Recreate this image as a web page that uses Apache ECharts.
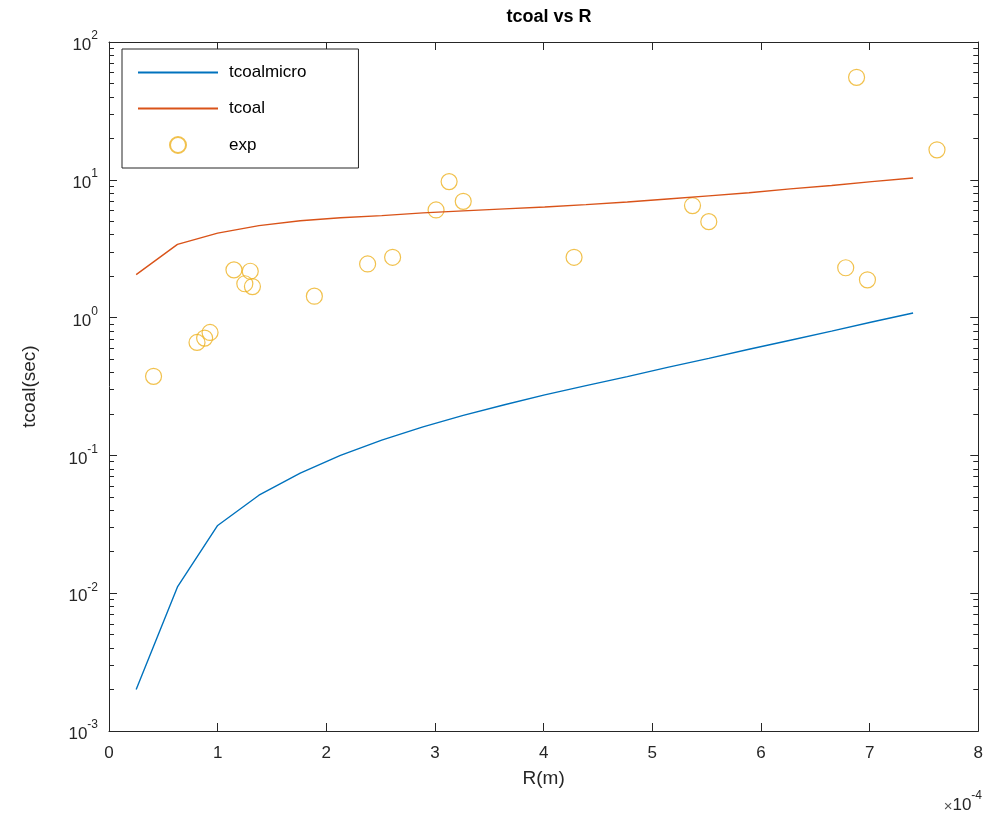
<!DOCTYPE html>
<html>
<head>
<meta charset="utf-8">
<title>tcoal vs R</title>
<script src="https://cdn.jsdelivr.net/npm/echarts@6/dist/echarts.min.js"></script>
<style>
  html, body { margin: 0; padding: 0; background: #ffffff; }
  #chart { width: 986px; height: 820px; }
</style>
</head>
<body>
<div id="chart"></div>
<script>
// Drop radius R, in units of 1e-4 m
const radius = [0.25, 0.63, 1.00, 1.38, 1.76, 2.13, 2.51, 2.89, 3.26, 3.64,
                4.01, 4.39, 4.77, 5.14, 5.52, 5.89, 6.27, 6.65, 7.02, 7.40];

// Model coalescence times (s)
const tcoalMicro = [0.0020, 0.0111, 0.031, 0.0514, 0.0743, 0.100, 0.129, 0.161, 0.195, 0.233,
                    0.275, 0.321, 0.373, 0.435, 0.506, 0.589, 0.685, 0.798, 0.929, 1.08];
const tcoal = [2.05, 3.4, 4.1, 4.65, 5.05, 5.3, 5.5, 5.75, 5.95, 6.15,
               6.35, 6.6, 6.9, 7.25, 7.65, 8.05, 8.6, 9.1, 9.7, 10.3];

// Measured coalescence times
const expR = [0.41, 0.81, 0.88, 0.93, 1.15, 1.30, 1.25, 1.32, 1.89, 2.38, 2.61,
              3.01, 3.13, 3.26, 4.28, 5.37, 5.52, 6.78, 6.88, 6.98, 7.62];
const expT = [0.375, 0.66, 0.71, 0.78, 2.22, 2.17, 1.76, 1.68, 1.43, 2.45, 2.74,
              6.04, 9.7, 6.98, 2.74, 6.5, 4.97, 2.3, 55.4, 1.88, 16.5];

// Axis ticks
const xTicks = [0, 1, 2, 3, 4, 5, 6, 7, 8];
const decadeExponents = [-3, -2, -1, 0, 1, 2];

const pair = (xs, ys) => xs.map((x, i) => [x, ys[i]]);

// minor tick positions (2..9 x 10^n) expressed in decades
const minorDecades = [];
for (let n = decadeExponents[0]; n < decadeExponents[decadeExponents.length - 1]; n++) {
  for (let k = 2; k <= 9; k++) minorDecades.push(n + Math.log10(k));
}

const ink = '#262626';
const font = '"Liberation Sans", Arial, Helvetica, sans-serif';

const decadeAxis = (position, opts) => Object.assign({
  type: 'value',
  position: position,
  min: decadeExponents[0],
  max: decadeExponents[decadeExponents.length - 1],
  interval: 1,
  gridIndex: 0,
  axisLine: { show: false },
  splitLine: { show: false },
  axisLabel: { show: false },
  axisTick: { show: true, inside: true, length: 8, lineStyle: { color: ink, width: 1 } }
}, opts);

const chart = echarts.init(document.getElementById('chart'), null, { renderer: 'canvas' });

chart.setOption({
  animation: false,
  backgroundColor: '#ffffff',
  textStyle: { fontFamily: font },
  title: {
    text: 'tcoal vs R',
    left: 544,
    textAlign: 'center',
    top: 3,
    textStyle: { fontFamily: font, fontSize: 18, fontWeight: 'bold', color: '#000' }
  },
  grid: { left: 109, right: 6, top: 42, bottom: 89, containLabel: false },
  legend: {
    orient: 'vertical',
    left: 122,
    top: 49,
    data: [
      { name: 'tcoalmicro', itemStyle: { opacity: 0 } },
      { name: 'tcoal', itemStyle: { opacity: 0 } },
      { name: 'exp' }
    ],
    itemWidth: 80,
    itemHeight: 16,
    itemGap: 19,
    padding: [15, 52, 14, 15],
    borderColor: ink,
    borderWidth: 1,
    backgroundColor: '#ffffff',
    textStyle: { fontFamily: font, fontSize: 17, color: '#000', lineHeight: 16, padding: [0, 0, 0, 6] }
  },
  xAxis: [
    {
      type: 'value', min: xTicks[0], max: xTicks[xTicks.length - 1], interval: 1,
      position: 'bottom',
      name: 'R(m)', nameLocation: 'middle', nameGap: 38,
      nameTextStyle: { fontFamily: font, fontSize: 19, color: ink },
      axisLine: { show: true, onZero: false, lineStyle: { color: ink, width: 1 } },
      axisTick: { show: true, inside: true, length: 8, lineStyle: { color: ink } },
      axisLabel: { fontFamily: font, fontSize: 17, color: ink, margin: 14 },
      splitLine: { show: false }
    },
    {
      type: 'value', min: xTicks[0], max: xTicks[xTicks.length - 1], interval: 1,
      position: 'top',
      axisLine: { show: true, onZero: false, lineStyle: { color: ink, width: 1 } },
      axisTick: { show: true, inside: true, length: 8, lineStyle: { color: ink } },
      axisLabel: { show: false },
      splitLine: { show: false }
    }
  ],
  yAxis: [
    {
      type: 'log', logBase: 10, min: 1e-3, max: 100,
      position: 'left',
      name: 'tcoal(sec)', nameLocation: 'middle', nameGap: 70,
      nameTextStyle: { fontFamily: font, fontSize: 19, color: ink },
      axisLine: { show: true, onZero: false, lineStyle: { color: ink, width: 1 } },
      axisTick: { show: false },
      axisLabel: { show: false },
      splitLine: { show: false }
    },
    decadeAxis('left', {
      axisLabel: {
        show: true, margin: 11,
        formatter: v => '{b|10}{s|' + v + '}',
        rich: {
          b: { fontFamily: font, fontSize: 17, color: ink, lineHeight: 24, verticalAlign: 'bottom' },
          s: { fontFamily: font, fontSize: 12, color: ink, lineHeight: 24, verticalAlign: 'top' }
        }
      }
    }),
    decadeAxis('left', {
      axisTick: { show: true, inside: true, length: 5, customValues: minorDecades, lineStyle: { color: ink } }
    }),
    decadeAxis('right', {
      axisLine: { show: true, onZero: false, lineStyle: { color: ink, width: 1 } }
    }),
    decadeAxis('right', {
      axisTick: { show: true, inside: true, length: 5, customValues: minorDecades, lineStyle: { color: ink } }
    })
  ],
  graphic: [
    {
      type: 'text',
      right: 4,
      top: 790,
      style: {
        text: '{x|×}{b|10}{s|-4}',
        rich: {
          x: { fontFamily: font, fontSize: 15, fill: '#555', lineHeight: 24, verticalAlign: 'bottom' },
          b: { fontFamily: font, fontSize: 17, fill: ink, lineHeight: 24, verticalAlign: 'bottom' },
          s: { fontFamily: font, fontSize: 12, fill: ink, lineHeight: 24, verticalAlign: 'top' }
        }
      }
    }
  ],
  series: [
    {
      name: 'tcoalmicro', type: 'line', xAxisIndex: 0, yAxisIndex: 0,
      data: pair(radius, tcoalMicro),
      symbol: 'none', showSymbol: false,
      lineStyle: { color: '#0072BD', width: 1.4 },
      itemStyle: { color: '#0072BD' }
    },
    {
      name: 'tcoal', type: 'line', xAxisIndex: 0, yAxisIndex: 0,
      data: pair(radius, tcoal),
      symbol: 'none', showSymbol: false,
      lineStyle: { color: '#D95319', width: 1.4 },
      itemStyle: { color: '#D95319' }
    },
    {
      name: 'exp', type: 'scatter', xAxisIndex: 0, yAxisIndex: 0,
      data: pair(expR, expT),
      symbol: 'circle', symbolSize: 16,
      itemStyle: { color: 'rgba(0,0,0,0)', borderColor: '#EDB120', borderWidth: 1.2 }
    }
  ]
});
</script>
</body>
</html>
